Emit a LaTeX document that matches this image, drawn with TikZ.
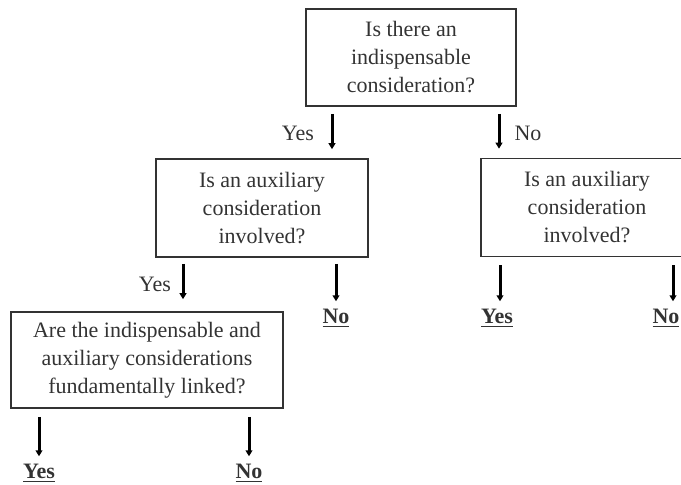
\documentclass[tikz,border=0pt]{standalone}
\usepackage{fontspec}
\setmainfont{Liberation Serif}
\usepackage{tikz}
\usetikzlibrary{positioning, arrows.meta}
\definecolor{inkgray}{HTML}{333333}
\tikzstyle{arrow} = [line width=1.5pt,-{Triangle[width=3.4pt,length=3pt]}]

\begin{document}
\begin{tikzpicture}[
        x=0.5pt, y=-0.5pt,
        every node/.style={font=\fontsize{11}{14}\selectfont, text=inkgray},
        question/.style={rectangle, draw=black!80, line width=0.8pt, align=center, inner sep=0pt},
        answer/.style={inner sep=1pt},
        branch/.style={inner sep=1pt},
        arrow/.style={line width=1.5pt, draw=black, -{Triangle[width=3.4pt,length=3pt]}}
    ]
    \useasboundingbox (0,0) rectangle (681,485);
    \clip (0,0) rectangle (681,485);

    % Nodes
    \node (indisp) [question, minimum width=105pt, minimum height=48.5pt] at (411,57.5)
        {Is there an\\indispensable\\consideration?};
    \node (auxL) [question, minimum width=106pt, minimum height=49pt] at (262,208)
        {Is an auxiliary\\consideration\\involved?};
    \node (auxR) [question, minimum width=106pt, minimum height=49pt] at (587,207.5)
        {Is an auxiliary\\consideration\\involved?};
    \node (linked) [question, minimum width=136pt, minimum height=48pt] at (147,360)
        {Are the indispensable and\\auxiliary considerations\\fundamentally linked?};

    % Answers
    \node (noL) [answer] at (336,318) {\underline{\textbf{No}}};
    \node (yesR) [answer] at (497,318) {\underline{\textbf{Yes}}};
    \node (noR) [answer] at (666,318) {\underline{\textbf{No}}};
    \node (yesB) [answer] at (39,473) {\underline{\textbf{Yes}}};
    \node (noB) [answer] at (249,473) {\underline{\textbf{No}}};

    % Branch labels
    \node (yes1) [branch] at (298,133) {Yes};
    \node (no1) [branch] at (528,133) {No};
    \node (yes2) [branch] at (155,284) {Yes};

    % Arrows
    \coordinate (colYes1) at (332,0);
    \coordinate (colNo1) at (499,0);
    \coordinate (colYes2) at (183,0);
    \coordinate (colYes3) at (500,0);
    \coordinate (colNo3) at (673,0);
    \draw [arrow, shorten <=3.5pt, shorten >=4.5pt] (indisp.south -| colYes1) -- (auxL.north -| colYes1);
    \draw [arrow, shorten <=3.5pt, shorten >=4.5pt] (indisp.south -| colNo1) -- (auxR.north -| colNo1);
    \draw [arrow, shorten <=3pt, shorten >=6pt] (auxL.south -| colYes2) -- (linked.north -| colYes2);
    \draw [arrow, shorten <=3pt, shorten >=2.5pt] (auxL.south -| noL) -- (noL);
    \draw [arrow, shorten <=4pt, shorten >=2.5pt] (auxR.south -| colYes3) -- (yesR.north -| colYes3);
    \draw [arrow, shorten <=4pt, shorten >=2.5pt] (auxR.south -| colNo3) -- (noR.north -| colNo3);
    \draw [arrow, shorten <=4pt, shorten >=2.5pt] (linked.south -| yesB) -- (yesB);
    \draw [arrow, shorten <=4pt, shorten >=2.5pt] (linked.south -| noB) -- (noB);

\end{tikzpicture}
\end{document}
